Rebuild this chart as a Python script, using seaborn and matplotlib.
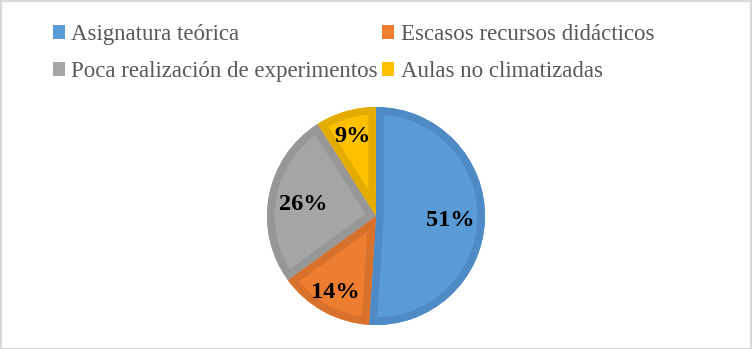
import matplotlib
matplotlib.use("Agg")
import matplotlib.pyplot as plt
from matplotlib.patches import Patch, Rectangle, PathPatch
import numpy as np
import seaborn as sns

categories = ["Asignatura teórica", "Escasos recursos didácticos",
              "Poca realización de experimentos", "Aulas no climatizadas"]
values = [51, 14, 26, 9]
colors = ["#5B9BD5", "#ED7D31", "#A5A5A5", "#FFC000"]
edge_colors = ["#4F8AC4", "#D8712C", "#979797", "#E5AC00"]
label_dist = [0.68, 0.77, 0.68, 0.78]

sns.set_theme(style="white")
plt.rcParams["font.family"] = ["Liberation Serif", "DejaVu Serif"]

W, H = 752, 349
fig = plt.figure(figsize=(W / 100, H / 100), dpi=100)
fig.patch.set_facecolor("white")

cx, cy, r = 376, 216, 109
ax = fig.add_axes([(cx - r) / W, (H - cy - r) / H, 2 * r / W, 2 * r / H])
ax.set_xlim(-1, 1)
ax.set_ylim(-1, 1)
wedges, _ = ax.pie(values, colors=colors, startangle=90, counterclock=False,
                   radius=1.0, wedgeprops=dict(linewidth=0))
ax.set_xlim(-1, 1)
ax.set_ylim(-1, 1)
ax.set_aspect("equal")
ax.axis("off")

for w, ec in zip(wedges, edge_colors):
    path = w.get_path()
    tr = w.get_patch_transform() + ax.transData
    border = PathPatch(path, transform=tr, facecolor="none", edgecolor=ec,
                       linewidth=11, joinstyle="miter", zorder=w.get_zorder() + 0.1)
    ax.add_artist(border)
    border.set_clip_path(path, tr)

for w, v, d in zip(wedges, values, label_dist):
    ang = np.deg2rad((w.theta1 + w.theta2) / 2)
    ax.text(d * np.cos(ang), d * np.sin(ang), f"{v}%", ha="center",
            va="center_baseline",
            fontsize=17.5, fontweight="bold", color="black", zorder=5)

handles = [Patch(facecolor=c, edgecolor="none") for c in colors]
order = [0, 2, 1, 3]
fig.legend([handles[i] for i in order], [categories[i] for i in order],
           ncol=2, loc="upper left", bbox_to_anchor=(52.7 / W, 1 - 24 / H),
           frameon=False, fontsize=16.5, handlelength=0.53, handleheight=0.53,
           handletextpad=0.27, columnspacing=0.2, labelspacing=0.7,
           borderpad=0, borderaxespad=0, labelcolor="#595959")

fig.add_artist(Rectangle((0.5 / W, 0.5 / H), 1 - 1.5 / W, 1 - 1.5 / H,
                         transform=fig.transFigure, fill=False,
                         edgecolor="#D9D9D9", linewidth=1.5))

fig.savefig("out.png", dpi=100)
